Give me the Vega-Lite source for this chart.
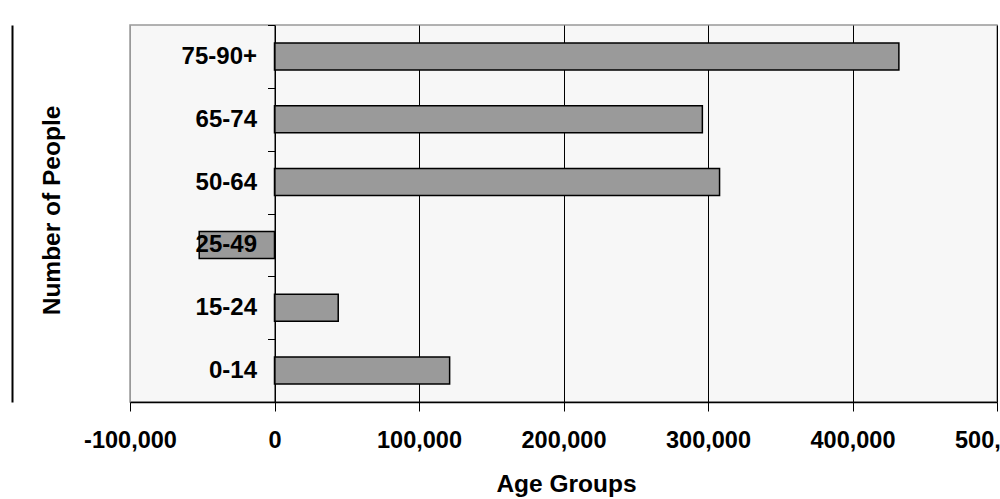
{
  "$schema": "https://vega.github.io/schema/vega-lite/v6.json",
  "width": 867,
  "height": 377,
  "autosize": {"type": "none"},
  "padding": {"left": 130, "top": 25, "right": 3, "bottom": 97},
  "background": "white",
  "config": {
    "view": {"fill": "#f7f7f7", "stroke": "#999999", "strokeWidth": 1.5},
    "font": "Liberation Sans"
  },
  "data": {
    "values": [
      {"group": "75-90+", "people": 432100},
      {"group": "65-74", "people": 296100},
      {"group": "50-64", "people": 308000},
      {"group": "25-49", "people": -52100},
      {"group": "15-24", "people": 44100},
      {"group": "0-14", "people": 121200}
    ]
  },
  "layer": [
    {
      "mark": {"type": "bar", "color": "#9a9a9a", "stroke": "black", "strokeWidth": 1.5, "size": 27},
      "encoding": {
        "y": {
          "field": "group",
          "type": "nominal",
          "sort": ["75-90+", "65-74", "50-64", "25-49", "15-24", "0-14"],
          "scale": {"paddingInner": 0, "paddingOuter": 0},
          "axis": {
            "orient": "left",
            "offset": -144.5,
            "zindex": 1,
            "domainColor": "black",
            "domainWidth": 1,
            "tickColor": "black",
            "tickSize": 7,
            "tickBand": "extent",
            "labelPadding": 11,
            "labelFontSize": 24,
            "labelFontWeight": "bold",
            "labelColor": "black",
            "labelFont": "Liberation Sans",
            "grid": false,
            "title": "Number of People",
            "titleFont": "Liberation Sans",
            "titleFontSize": 24.5,
            "titleFontWeight": "bold",
            "titleColor": "black",
            "titleAngle": -90,
            "titleAlign": "center",
            "titleBaseline": "middle",
            "titleX": -222,
            "titleY": 185
          }
        },
        "x": {
          "field": "people",
          "type": "quantitative",
          "scale": {"domain": [-100000, 500000], "nice": false, "zero": false},
          "axis": {
            "values": [-100000, 0, 100000, 200000, 300000, 400000, 500000],
            "labelExpr": "datum.value < 0 ? '-' + format(-datum.value, ',') : format(datum.value, ',')",
            "grid": true,
            "gridColor": {"condition": {"test": "datum.value == -100000", "value": "#999999"}, "value": "black"},
            "gridWidth": 1,
            "gridOpacity": 1,
            "domainColor": "black",
            "domainWidth": 1.5,
            "tickColor": "black",
            "tickSize": 9,
            "labelBaseline": "alphabetic",
            "labelPadding": 36,
            "labelFontSize": 23.5,
            "labelFontWeight": "bold",
            "labelColor": "black",
            "labelFont": "Liberation Sans",
            "labelOverlap": false,
            "labelFlush": false,
            "title": "Age Groups",
            "titleFont": "Liberation Sans",
            "titleFontSize": 24.5,
            "titleFontWeight": "bold",
            "titleColor": "black",
            "titleBaseline": "alphabetic",
            "titleY": 89,
            "titleX": 436
          }
        }
      }
    },
    {
      "mark": {"type": "rule", "opacity": 0},
      "encoding": {
        "y": {
          "datum": 0,
          "type": "quantitative",
          "axis": {
            "orient": "left",
            "offset": 118,
            "labels": false,
            "ticks": false,
            "grid": false,
            "title": null,
            "domainColor": "black",
            "domainWidth": 2
          }
        }
      }
    }
  ],
  "resolve": {"scale": {"y": "independent"}, "axis": {"y": "independent"}}
}
